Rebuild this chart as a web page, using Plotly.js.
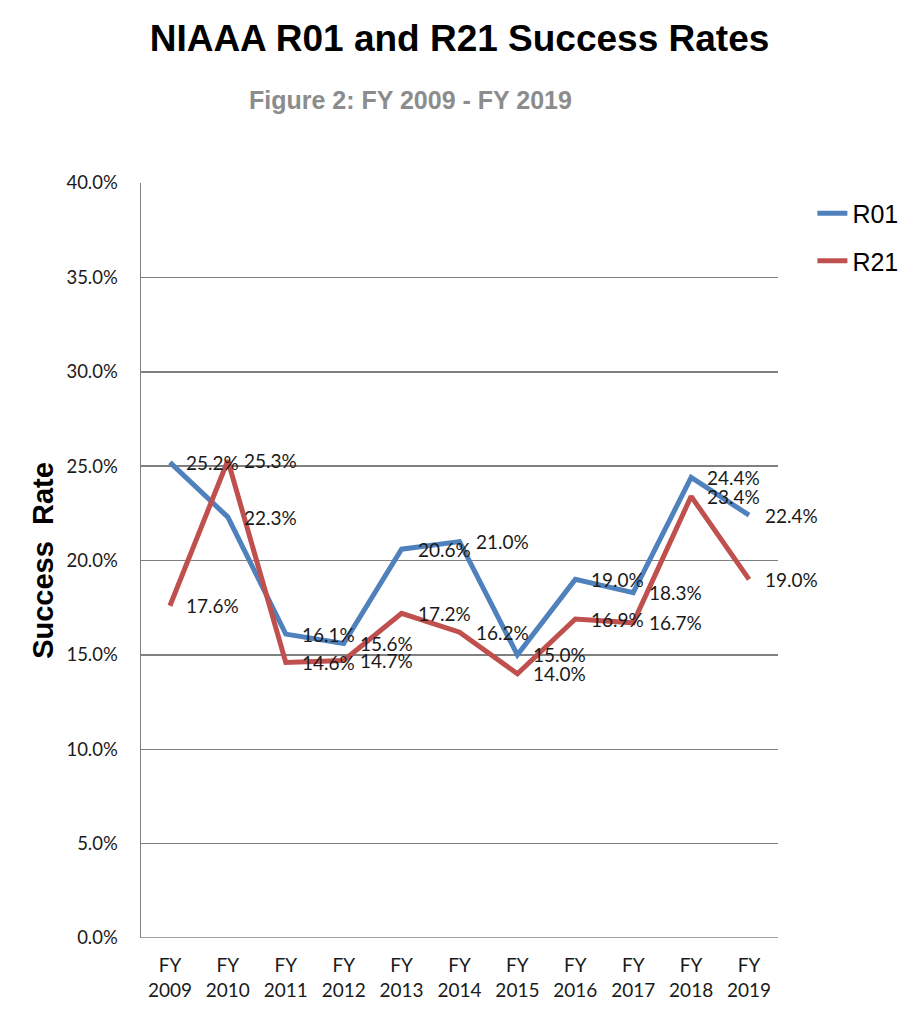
<!DOCTYPE html>
<html>
<head>
<meta charset="utf-8">
<script src="https://cdn.plot.ly/plotly-3.0.1.min.js"></script>
<style>html,body{margin:0;padding:0;background:#fff}#chart{width:922px;height:1017px}</style>
</head>
<body>
<div id="chart"></div>
<script>
var categories = ["FY<br>2009","FY<br>2010","FY<br>2011","FY<br>2012","FY<br>2013","FY<br>2014","FY<br>2015","FY<br>2016","FY<br>2017","FY<br>2018","FY<br>2019"];
var r01 = [25.2, 22.3, 16.1, 15.6, 20.6, 21.0, 15.0, 19.0, 18.3, 24.4, 22.4];
var r21 = [17.6, 25.3, 14.6, 14.7, 17.2, 16.2, 14.0, 16.9, 16.7, 23.4, 19.0];
var yTicks = [0, 5, 10, 15, 20, 25, 30, 35, 40];
var yTickText = ["0.0%","5.0%","10.0%","15.0%","20.0%","25.0%","30.0%","35.0%","40.0%"];

var idx = categories.map(function(_, i){ return i; });
var labFont = {family: "Lato, 'Open Sans', sans-serif", size: 19, color: "#1a1a1a"};

var annotations = [];
function addLabels(vals){
  vals.forEach(function(v, i){
    annotations.push({x: i, y: v, xref: "x", yref: "y", text: v.toFixed(1) + "%",
      showarrow: false, xanchor: "left", yanchor: "middle", xshift: 14, font: labFont});
  });
}
addLabels(r01);
addLabels(r21);
annotations.push({xref: "paper", yref: "paper", x: (410 - 141) / 637, y: 1 + (183 - 100) / 755,
  xanchor: "center", yanchor: "middle", showarrow: false,
  text: "<b>Figure 2: FY 2009 - FY 2019</b>",
  font: {family: "'Liberation Sans', Arial, sans-serif", size: 25, color: "#8c8c8c"}});

var traces = [
  {x: idx, y: r01, type: "scatter", mode: "lines", name: "R01", legendgroup: "a",
   line: {color: "#4F81BD", width: 5}, hoverinfo: "skip"},
  {x: idx, y: r21, type: "scatter", mode: "lines", name: "R21", legendgroup: "b",
   line: {color: "#C0504D", width: 5}, hoverinfo: "skip"}
];

var layout = {
  width: 922, height: 1017,
  margin: {l: 141, r: 144, t: 183, b: 79},
  paper_bgcolor: "#ffffff", plot_bgcolor: "#ffffff",
  title: {text: "<b>NIAAA R01 and R21 Success Rates</b>", x: 0.5, xref: "paper", y: 1 - 38 / 1017, yanchor: "middle",
    font: {family: "'Liberation Sans', Arial, sans-serif", size: 37, color: "#000"}},
  xaxis: {range: [-0.5, 10.5], tickmode: "array", tickvals: idx, ticktext: categories,
    showgrid: false, zeroline: false, showline: false, ticks: "", ticklabelstandoff: 14,
    tickfont: {family: "Lato, 'Open Sans', sans-serif", size: 19, color: "#1a1a1a"}},
  yaxis: {range: [0, 40], tickmode: "array", tickvals: yTicks, ticktext: yTickText,
    showgrid: true, gridcolor: "#808080", gridwidth: 1.5, zeroline: false,
    showline: true, linecolor: "#808080", linewidth: 1.5, ticks: "", ticklabelstandoff: 18,
    tickfont: {family: "Lato, 'Open Sans', sans-serif", size: 18.5, color: "#1a1a1a"},
    title: {text: "<b>Success  Rate</b>", standoff: 4,
      font: {family: "'Liberation Sans', Arial, sans-serif", size: 29, color: "#000"}}},
  showlegend: true,
  legend: {x: 1.054, y: 0.99, xanchor: "left", yanchor: "top", traceorder: "grouped", tracegroupgap: 12,
    bgcolor: "rgba(0,0,0,0)", font: {family: "'Liberation Sans', Arial, sans-serif", size: 25, color: "#000"}},
  shapes: [{type: "line", xref: "paper", yref: "y", x0: 0, x1: 1, y0: 0, y1: 0, line: {color: "#808080", width: 1.5}}],
  annotations: annotations
};

Plotly.newPlot("chart", traces, layout, {staticPlot: true, displayModeBar: false});
</script>
</body>
</html>
